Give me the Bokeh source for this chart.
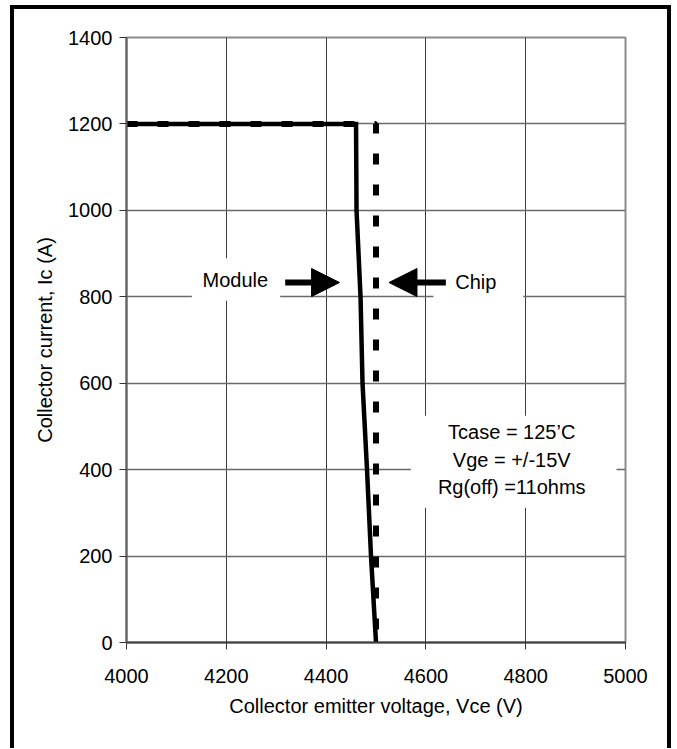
from bokeh.plotting import figure
from bokeh.models import Range1d, FixedTicker, Arrow, NormalHead
from bokeh.core.properties import value
from bokeh.embed import file_html
from bokeh.resources import INLINE

# ---- data ----
vce_module = [4000, 4460, 4461, 4469, 4473, 4482, 4490, 4500]
ic_module = [1200, 1200, 1000, 800, 600, 400, 200, 0]
vce_chip = [4000, 4500, 4500]
ic_chip = [1200, 1200, 0]
x_ticks = [4000, 4200, 4400, 4600, 4800, 5000]
y_ticks = [0, 200, 400, 600, 800, 1000, 1200, 1400]
cond_lines = ["Tcase = 125\u2019C", "Vge = +/-15V", "Rg(off) =11ohms"]

FONT = "Liberation Sans"

p = figure(width=653, height=739, output_backend="svg", toolbar_location=None,
           x_range=Range1d(4000, 5000), y_range=Range1d(0, 1400),
           min_border_left=112, min_border_right=50, min_border_top=28, min_border_bottom=110)
p.styles = {"box-sizing": "content-box",
            "border-left": "4px solid black", "border-right": "4px solid black",
            "border-top": "4px solid black", "margin-left": "10px", "margin-top": "5px"}
p.background_fill_color = "white"
p.border_fill_color = "white"
p.outline_line_color = "#8c8c8c"
p.outline_line_width = 2

p.xaxis.ticker = FixedTicker(ticks=x_ticks)
p.yaxis.ticker = FixedTicker(ticks=y_ticks)
for ax in (p.xaxis, p.yaxis):
    ax.minor_tick_line_color = None
    ax.major_tick_in = 0
    ax.major_tick_out = 7
    ax.major_tick_line_color = "#333333"
    ax.major_tick_line_width = 1
    ax.major_label_text_font = FONT
    ax.major_label_text_font_size = "20px"
    ax.major_label_text_color = "black"
    ax.axis_label_text_font = FONT
    ax.axis_label_text_font_size = "20px"
    ax.axis_label_text_font_style = "normal"
    ax.axis_label_text_color = "black"
p.xaxis.axis_line_color = "#404040"
p.xaxis.axis_line_width = 2
p.yaxis.axis_line_color = "#606060"
p.yaxis.axis_line_width = 2
p.xaxis.major_label_standoff = 19
p.yaxis.major_label_standoff = 7
p.xaxis.axis_label = "Collector emitter voltage, Vce (V)"
p.yaxis.axis_label = "Collector current, Ic (A)"
p.xaxis.axis_label_standoff = 9
p.yaxis.axis_label_standoff = 9

p.xgrid.ticker = FixedTicker(ticks=x_ticks)
p.ygrid.ticker = FixedTicker(ticks=y_ticks)
p.xgrid.grid_line_color = "#3c3c3c"
p.xgrid.grid_line_width = 1
p.ygrid.grid_line_color = "#6a6a6a"
p.ygrid.grid_line_width = 1.3

# white text boxes (hide grid behind labels)
p.quad(left=[4131, 4615, 4570], right=[4308, 4795, 4982],
       bottom=[791, 780, 312], top=[889, 889, 525],
       fill_color="white", line_color=None)

# curves
p.line(vce_chip, ic_chip, line_color="black", line_width=6, line_dash="11 20", line_cap="butt")
p.line(vce_module, ic_module, line_color="black", line_width=4.5, line_join="miter")

# arrows
p.add_layout(Arrow(end=NormalHead(size=28, fill_color="black", line_color="black", line_width=1),
                   x_start=4318, y_start=833, x_end=4427, y_end=833,
                   line_color="black", line_width=6))
p.add_layout(Arrow(end=NormalHead(size=28, fill_color="black", line_color="black", line_width=1),
                   x_start=4640, y_start=833, x_end=4526, y_end=833,
                   line_color="black", line_width=6))

# labels
p.text(x=[4218, 4700], y=[838, 835], text=["Module", "Chip"],
       text_font=value(FONT), text_font_size="20px", text_color="black",
       text_align="center", text_baseline="middle")
p.text(x=[4772, 4772, 4772], y=[486, 423, 360], text=cond_lines,
       text_font=value(FONT), text_font_size="20px", text_color="black",
       text_align="center", text_baseline="middle")

open("out.html", "w").write(file_html(p, INLINE))
